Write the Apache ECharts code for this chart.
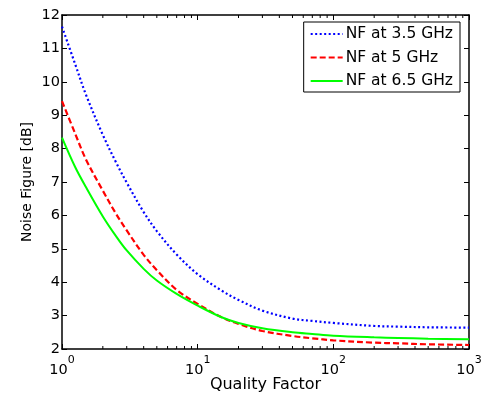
<!DOCTYPE html>
<html>
<head>
<meta charset="utf-8">
<script src="https://cdn.jsdelivr.net/npm/echarts@6/dist/echarts.min.js"></script>
<style>html,body{margin:0;padding:0;background:#fff}#c{width:483px;height:393px}</style>
</head>
<body>
<div id="c"></div>
<script>
const qualityFactor = [1, 1.25, 1.5, 2, 2.5, 3, 4, 5, 7, 10, 15, 20, 30, 50, 70, 100, 200, 300, 500, 1000];
const nf35 = [11.65, 10.53, 9.62, 8.41, 7.59, 6.98, 6.1, 5.53, 4.83, 4.24, 3.75, 3.47, 3.15, 2.91, 2.84, 2.78, 2.69, 2.67, 2.65, 2.64];
const nf5  = [9.42, 8.45, 7.68, 6.74, 6.05, 5.55, 4.82, 4.36, 3.77, 3.35, 2.95, 2.75, 2.54, 2.39, 2.32, 2.26, 2.19, 2.17, 2.14, 2.12];
const nf65 = [8.33, 7.45, 6.85, 5.97, 5.38, 4.95, 4.4, 4.05, 3.65, 3.3, 2.95, 2.78, 2.62, 2.5, 2.45, 2.4, 2.35, 2.33, 2.31, 2.29];
const seriesNames = ['NF at 3.5 GHz', 'NF at 5 GHz', 'NF at 6.5 GHz'];
const xDecades = [1, 10, 100, 1000];

const FONT = 'DejaVu Sans, Liberation Sans, Arial, sans-serif';
const pairs = arr => qualityFactor.map((q, i) => [q, arr[i]]);

const chart = echarts.init(document.getElementById('c'), null, {renderer: 'canvas'});
const axisLineStyle = {color: '#000', width: 1.5};
const xLabelFmt = v => '{b|10}{e|' + Math.round(Math.log10(v)) + '}';
const option = {
  animation: false,
  backgroundColor: '#fff',
  textStyle: {fontFamily: FONT},
  grid: {left: 62, right: 14, top: 15, bottom: 44, outerBoundsMode: 'none', containLabel: false},
  legend: {
    orient: 'vertical', right: 23, top: 22,
    backgroundColor: '#fff', borderColor: '#000', borderWidth: 1,
    padding: [4, 7, 3, 6], itemGap: 7.5, itemWidth: 32, itemHeight: 14,
    itemStyle: {opacity: 0},
    textStyle: {fontFamily: FONT, fontSize: 15.5, color: '#000', lineHeight: 14, padding: [0, 0, 0, -2]},
    data: seriesNames
  },
  xAxis: [{
    type: 'log', logBase: 10, min: 1, max: 1000, position: 'bottom',
    axisLine: {lineStyle: axisLineStyle},
    axisTick: {inside: true, length: 5, lineStyle: {color: '#000'}},
    splitLine: {show: false},
    axisLabel: {formatter: xLabelFmt, margin: 6, color: '#000', hideOverlap: false,
      rich: {b: {fontSize: 14.5, fontFamily: FONT, padding: [8, 0, 0, 0]}, e: {fontSize: 11, fontFamily: FONT, verticalAlign: 'top'}}},
    name: 'Quality Factor', nameLocation: 'middle', nameGap: 28, nameMoveOverlap: false,
    nameTextStyle: {fontSize: 16, color: '#000', fontFamily: FONT}
  }, {
    type: 'log', logBase: 10, min: 1, max: 1000, position: 'top',
    axisLine: {lineStyle: axisLineStyle},
    axisTick: {inside: true, length: 5, lineStyle: {color: '#000'}},
    axisLabel: {show: false}, splitLine: {show: false}
  }],
  yAxis: [{
    type: 'value', min: 2, max: 12, interval: 1, position: 'left',
    axisLine: {show: true, lineStyle: axisLineStyle},
    axisTick: {show: true, inside: true, length: 5, lineStyle: {color: '#000'}},
    splitLine: {show: false},
    axisLabel: {fontSize: 14.5, color: '#000', margin: 2, fontFamily: FONT},
    name: 'Noise Figure [dB]', nameLocation: 'middle', nameGap: 28, nameRotate: 90, nameMoveOverlap: false,
    nameTextStyle: {fontSize: 14, color: '#000', fontFamily: FONT}
  }, {
    type: 'value', min: 2, max: 12, interval: 1, position: 'right',
    axisLine: {show: true, lineStyle: axisLineStyle},
    axisTick: {show: true, inside: true, length: 5, lineStyle: {color: '#000'}},
    splitLine: {show: false}, axisLabel: {show: false}
  }],
  series: [
    {name: seriesNames[0], type: 'line', data: pairs(nf35), smooth: 0.35, symbol: 'none',
     lineStyle: {color: '#0000ff', width: 2.2, type: [2, 2.5]}, itemStyle: {color: '#0000ff'}},
    {name: seriesNames[1], type: 'line', data: pairs(nf5), smooth: 0.35, symbol: 'none',
     lineStyle: {color: '#ff0000', width: 2.2, type: [6, 3]}, itemStyle: {color: '#ff0000'}},
    {name: seriesNames[2], type: 'line', data: pairs(nf65), smooth: 0.35, symbol: 'none',
     lineStyle: {color: '#00ff00', width: 2}, itemStyle: {color: '#00ff00'}}
  ]
};
chart.setOption(option);

// minor log ticks at 2..9 x 10^k, placed through the chart's own scale
const minor = [];
xDecades.slice(0, -1).forEach(d => { for (let m = 2; m <= 9; m++) minor.push(d * m); });
const els = [];
minor.forEach(q => {
  const pb = chart.convertToPixel({xAxisIndex: 0, yAxisIndex: 0}, [q, 2]);
  const pt = chart.convertToPixel({xAxisIndex: 0, yAxisIndex: 0}, [q, 12]);
  els.push({type: 'line', shape: {x1: pb[0], y1: pb[1], x2: pb[0], y2: pb[1] - 3}, style: {stroke: '#000', lineWidth: 1}, z: 10});
  els.push({type: 'line', shape: {x1: pt[0], y1: pt[1], x2: pt[0], y2: pt[1] + 3}, style: {stroke: '#000', lineWidth: 1}, z: 10});
});
chart.setOption({graphic: els});
</script>
</body>
</html>
